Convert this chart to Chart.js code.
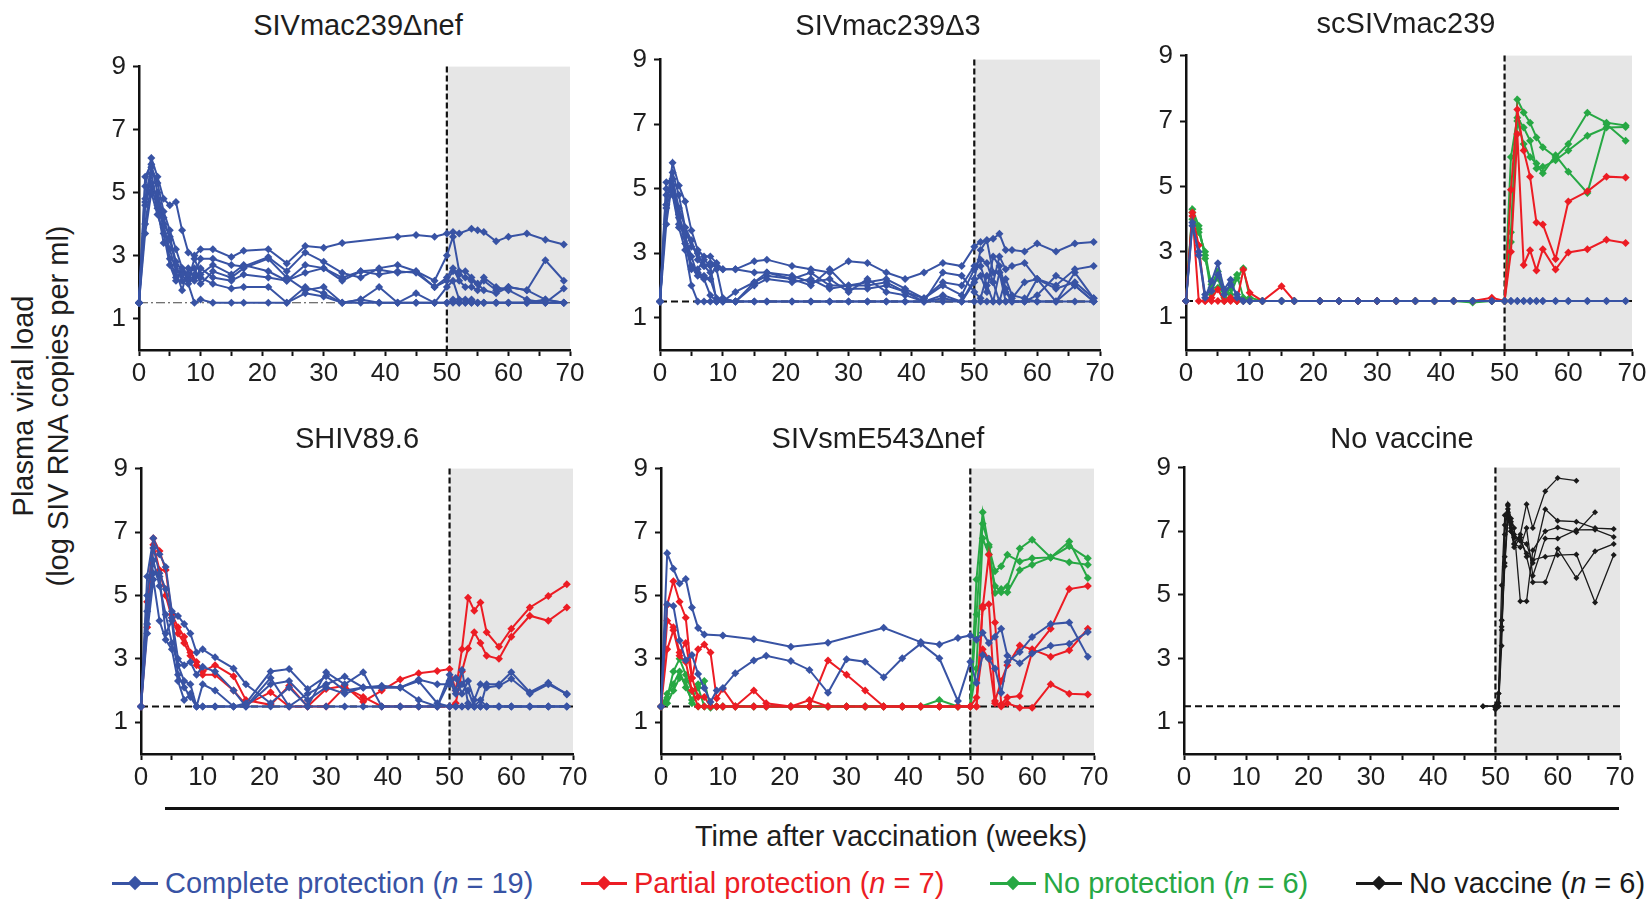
<!DOCTYPE html>
<html>
<head>
<meta charset="utf-8">
<script src="https://cdn.jsdelivr.net/npm/chart.js@4.4.1/dist/chart.umd.min.js"></script>
<style>
  html, body { margin: 0; padding: 0; overflow: hidden; background: #fff; }
  #page { position: relative; width: 1648px; height: 899px; overflow: hidden; font-family: "Liberation Sans", Arial, sans-serif; color: #1e1e1e; }
  canvas { position: absolute; }
  .title { position: absolute; font-size: 29px; line-height: 1; transform: translate(-50%, -50%); white-space: nowrap; }
  .ylab { position: absolute; font-size: 29px; line-height: 1; white-space: nowrap; transform: translate(-50%, -50%) rotate(-90deg); }
  .xlab { position: absolute; font-size: 29px; line-height: 1; white-space: nowrap; transform: translate(-50%, -50%); }
  .rule { position: absolute; left: 165px; top: 807px; width: 1454px; height: 3px; background: #111; }
  .leg { position: absolute; top: 866px; font-size: 29px; line-height: 34px; white-space: nowrap; }
  .mk { display: inline-block; position: relative; width: 46px; height: 2.5px; background: currentColor; vertical-align: middle; margin-right: 7px; top: -2px; }
  .mk::after { content: ""; position: absolute; left: 17px; top: -5px; width: 12px; height: 12px; background: currentColor; transform: rotate(45deg) scale(0.85); }
</style>
</head>
<body>
<div id="page">
  <canvas id="p1"></canvas>
  <canvas id="p2"></canvas>
  <canvas id="p3"></canvas>
  <canvas id="p4"></canvas>
  <canvas id="p5"></canvas>
  <canvas id="p6"></canvas>

  <div class="title" style="left:358px; top:25px">SIVmac239Δnef</div>
  <div class="title" style="left:888px; top:25px">SIVmac239Δ3</div>
  <div class="title" style="left:1406px; top:23px">scSIVmac239</div>
  <div class="title" style="left:357px; top:438px">SHIV89.6</div>
  <div class="title" style="left:878px; top:438px">SIVsmE543Δnef</div>
  <div class="title" style="left:1402px; top:438px">No vaccine</div>

  <div class="ylab" style="left:23px; top:406px">Plasma viral load</div>
  <div class="ylab" style="left:58px; top:406px">(log SIV RNA copies per ml)</div>

  <div class="rule"></div>
  <div class="xlab" style="left:891px; top:836px">Time after vaccination (weeks)</div>

  <div class="leg" style="left:112px; color:#3853a4"><span class="mk"></span>Complete protection (<i>n</i> = 19)</div>
  <div class="leg" style="left:581px; color:#ec1c24"><span class="mk"></span>Partial protection (<i>n</i> = 7)</div>
  <div class="leg" style="left:990px; color:#27a844"><span class="mk"></span>No protection (<i>n</i> = 6)</div>
  <div class="leg" style="left:1356px; color:#1a1a1a"><span class="mk"></span>No vaccine (<i>n</i> = 6)</div>
</div>

<script>
// sampling weeks shared by the vaccinated groups
const weeks = [0,1,2,3,4,5,6,7,8,9,10,  12,15,17,21,24,27,30,33,36,39,42,45,48,  50,51,52,53,54,55,56,58,60,63,66,69];
// denser sampling around challenge for the unvaccinated controls
const noVacWeeks = [48,50,50.5,51,51.5,52,52.5,53,54,55,56,58,60,63,66,69];

const xTicks = [0,5,10,15,20,25,30,35,40,45,50,55,60,65,70];
const xLabels = [0,10,20,30,40,50,60,70];
const yTicks = [1,3,5,7,9];
const challengeWeek = 50;
const detectionLimit = 1.5;

// SIVmac239delta-nef (complete protection)
const mac239nef1 = [1.5,5.2,6.1,5.5,4.8,4.6,4.7,3.8,3.1,3.0,3.2,  3.2,2.95,3.15,3.2,2.75,3.3,3.25,3.4,null,null,3.6,3.65,3.6,  3.7,3.75,3.7,null,3.85,3.8,3.75,3.45,3.6,3.7,3.5,3.35];
const mac239nef2 = [1.5,4.8,5.8,5.3,4.4,3.8,3.2,2.6,2.4,2.4,2.9,  2.9,2.7,2.65,2.95,2.5,3.1,2.8,2.45,2.3,2.6,2.7,2.5,2.2,  3.0,3.6,2.5,2.5,2.3,2.1,2.2,1.9,2.0,1.9,1.6,1.5];
const mac239nef3 = [1.5,5.5,5.9,5.0,4.2,3.5,2.7,2.2,2.3,2.2,2.6,  2.3,2.2,2.4,2.3,2.2,2.45,2.6,2.3,2.5,2.55,2.45,2.5,2.0,  2.2,2.5,2.4,2.3,2.2,2.1,1.9,1.8,2.0,1.9,2.85,2.2];
const mac239nef4 = [1.5,4.6,5.6,4.6,3.9,3.2,2.5,1.9,2.6,2.3,2.3,  2.1,1.95,2.0,2.0,1.5,2.0,1.8,1.5,1.6,2.0,1.5,1.5,1.5,  1.5,1.6,1.5,1.5,1.6,1.5,1.5,1.5,1.5,1.5,1.6,1.5];
const mac239nef5 = [1.5,4.0,5.3,4.8,4.0,2.9,2.3,2.4,2.1,1.5,1.6,  1.5,1.5,1.5,1.5,1.5,1.8,1.7,1.5,1.5,1.5,1.5,1.5,1.5,  1.5,1.5,1.5,1.5,1.5,1.5,1.5,1.5,1.5,1.5,1.5,1.5];
const mac239nef6 = [1.5,3.7,5.0,4.3,3.7,2.7,2.2,2.6,2.2,2.9,2.4,  2.7,2.4,2.7,2.5,2.2,2.7,2.6,2.2,2.5,2.4,2.5,2.45,2.0,  2.3,2.6,2.2,2.0,2.0,1.9,2.3,2.0,1.9,1.6,1.5,1.5];
const mac239nef7 = [1.5,4.7,5.2,4.5,3.4,3.6,2.8,2.5,2.4,2.6,2.1,  2.5,2.3,2.6,2.9,2.3,1.9,2.0,1.5,1.6,1.5,1.5,1.8,1.5,  2.0,2.2,1.6,1.6,1.5,1.5,1.5,1.5,1.5,1.5,1.5,1.95];

// SIVmac239delta3 (complete protection)
const mac239d3_1 = [1.5,4.4,5.8,5.1,4.6,3.7,3.1,2.9,2.9,2.7,2.5,  2.5,2.75,2.8,2.6,2.5,2.4,2.75,2.7,2.4,2.2,2.4,2.7,2.6,  3.2,3.35,3.4,3.45,3.6,3.1,3.1,3.05,3.3,3.05,3.3,3.35];
const mac239d3_2 = [1.5,5.2,5.3,4.4,3.8,3.4,2.8,2.6,2.7,2.6,2.5,  2.5,2.4,2.4,2.2,2.4,2.0,2.0,2.1,2.2,1.9,1.6,2.1,2.0,  2.6,2.8,2.7,2.1,2.9,2.5,2.6,2.7,2.2,2.0,2.5,2.6];
const mac239d3_3 = [1.5,4.5,5.5,4.8,3.8,3.2,3.0,2.6,2.4,2.5,1.6,  1.5,2.0,2.2,2.1,2.2,1.9,2.0,2.0,2.1,1.8,1.6,2.0,1.7,  2.5,2.6,2.0,1.5,2.4,1.5,1.6,2.1,2.2,1.9,2.1,1.6];
const mac239d3_4 = [1.5,4.5,4.9,3.9,3.6,2.6,2.5,2.8,2.6,1.5,1.5,  1.8,2.1,2.3,2.2,2.0,2.5,1.9,1.9,2.0,1.8,1.5,1.6,1.5,  2.1,2.3,1.8,2.9,2.6,1.9,1.5,1.5,1.7,2.3,2.0,1.5];
const mac239d3_5 = [1.5,5.0,4.8,3.8,3.1,2.0,1.5,1.5,1.5,1.5,1.5,  1.5,1.5,1.5,1.5,1.5,1.5,1.5,1.5,1.5,1.5,1.5,1.5,1.5,  1.5,1.5,1.5,1.5,1.5,1.5,1.5,1.5,1.5,1.5,1.5,1.5];
const mac239d3_6 = [1.5,3.9,5.3,4.2,3.5,2.9,2.3,2.2,1.7,1.5,1.6,  1.5,2.1,2.4,2.3,2.1,2.2,1.8,2.2,1.8,1.7,1.5,2.4,2.3,  1.8,1.6,2.3,2.1,1.5,2.2,1.7,1.6,1.5,1.5,2.4,1.6];
const mac239d3_7 = [1.5,4.8,5.1,4.1,3.3,2.5,2.4,2.3,2.2,1.6,1.5,  1.5,1.5,1.5,1.5,1.5,1.5,1.5,1.5,1.5,1.5,1.5,1.7,1.5,  2.2,3.1,3.4,2.4,2.4,1.8,1.5,1.5,2.2,1.5,2.0,1.5];

// scSIVmac239
const scBlue1  = [1.5,3.9,2.9,1.6,2.1,2.65,1.85,2.15,1.6,1.5,1.5,  1.5,1.5,1.5,1.5,1.5,1.5,1.5,1.5,1.5,1.5,1.5,1.5,1.5,  1.5,1.5,1.5,1.5,1.5,1.5,1.5,1.5,1.5,1.5,1.5,1.5];
const scBlue2  = [1.5,3.8,3.0,1.7,1.8,2.3,1.7,2.0,1.7,1.5,1.5,  1.5,1.5,1.5,1.5,1.5,1.5,1.5,1.5,1.5,1.5,1.5,1.5,1.5,  1.5,1.5,1.5,1.5,1.5,1.5,1.5,1.5,1.5,1.5,1.5,1.5];
const scRed1   = [1.5,4.2,1.5,1.5,1.6,1.85,1.5,1.6,1.5,2.45,1.75,  1.5,1.95,1.5,1.5,1.5,1.5,1.5,1.5,1.5,1.5,1.5,1.5,1.6,  1.5,4.9,7.35,6.1,5.3,3.9,3.84,2.78,4.54,4.85,5.3,5.27];
const scRed2   = [1.5,4.1,3.2,1.5,1.5,1.5,1.5,1.5,1.5,1.5,1.5,  1.5,1.5,1.5,1.5,1.5,1.5,1.5,1.5,1.5,1.5,1.5,1.5,1.5,  1.5,3.0,6.6,2.6,3.05,2.43,3.08,2.46,2.98,3.08,3.37,3.27];
const scGreen1 = [1.5,4.3,3.8,2.8,2.0,2.4,1.8,1.7,2.2,2.5,1.6,  1.5,1.5,1.5,1.5,1.5,1.5,1.5,1.5,1.5,1.5,1.5,1.45,1.5,  1.5,3.6,7.66,7.26,6.95,6.5,6.2,5.9,6.3,7.25,6.95,6.86];
const scGreen2 = [1.5,4.2,3.6,3.0,1.9,2.2,1.6,1.9,2.3,1.6,1.5,  1.5,1.5,1.5,1.5,1.5,1.5,1.5,1.5,1.5,1.5,1.5,1.5,1.5,  1.5,5.9,7.1,6.8,6.4,5.55,5.6,5.8,6.1,6.55,6.8,6.82];
const scGreen3 = [1.5,4.0,3.7,2.9,1.7,1.9,1.5,1.6,1.5,1.5,1.5,  1.5,1.5,1.5,1.5,1.5,1.5,1.5,1.5,1.5,1.5,1.5,1.5,1.5,  1.5,3.3,7.0,6.3,5.9,5.7,5.4,5.95,5.45,4.8,6.9,6.4];

// SHIV89.6
const shivBlue1 = [1.5,5.6,6.8,6.3,5.9,4.5,4.35,4.1,3.8,3.2,3.3,  3.05,2.7,2.2,1.6,2.1,1.5,2.58,2.2,2.58,1.5,1.5,1.5,1.5,  2.5,2.0,2.65,1.6,1.5,1.5,2.2,2.2,2.58,1.95,2.25,1.88];
const shivBlue2 = [1.5,5.0,6.5,5.7,5.2,4.3,3.0,2.8,2.9,2.5,2.75,  2.6,2.0,1.5,2.4,1.5,1.9,2.2,2.44,2.1,2.1,2.1,2.35,2.2,  2.2,2.4,1.9,2.3,1.7,2.2,2.1,2.15,2.37,1.9,2.2,1.9];
const shivBlue3 = [1.5,4.1,6.1,5.3,4.4,3.5,2.8,2.3,2.2,1.5,2.2,  2.0,1.5,1.6,2.6,2.68,2.05,2.45,2.0,2.1,2.1,2.1,2.3,1.6,  1.5,1.5,1.5,1.5,1.5,1.5,1.5,1.5,1.5,1.5,1.5,1.5];
const shivBlue4 = [1.5,3.8,5.5,4.2,3.6,3.3,2.3,1.7,1.9,1.5,1.5,  1.5,1.5,1.5,1.5,1.5,1.5,1.5,1.5,1.5,1.5,1.5,1.5,1.5,  1.5,1.5,1.5,1.5,1.5,1.5,1.5,1.5,1.5,1.5,1.5,1.5];
const shivBlue5 = [1.5,4.5,5.7,5.6,3.8,4.2,2.5,2.1,1.8,1.5,1.5,  1.5,1.5,1.5,2.2,2.3,1.7,2.1,1.9,2.1,2.15,2.1,1.7,1.5,  2.3,1.9,2.2,2.0,1.5,1.7,1.5,1.5,1.5,1.5,1.5,1.5];
const shivRed1  = [1.5,4.8,6.8,6.4,5.8,4.4,4.0,3.7,3.2,2.9,2.5,  2.5,2.0,1.55,1.95,1.5,1.5,2.05,2.15,1.65,2.0,2.35,2.55,2.62,  2.68,2.0,3.3,4.93,4.52,4.78,3.84,3.38,3.95,4.62,4.98,5.35];
const shivRed2  = [1.5,4.0,6.6,5.8,5.0,4.3,3.8,3.5,3.1,2.8,2.6,  2.8,2.45,1.7,1.55,2.15,1.5,1.5,2.1,1.8,1.5,1.5,1.5,1.5,  1.5,1.6,2.6,3.33,3.84,3.5,3.1,3.0,3.7,4.36,4.2,4.62];

// SIVsmE543delta-nef
const smeBlue1  = [1.5,6.33,5.84,5.38,5.52,4.62,3.97,3.77,null,null,3.74,  null,3.62,null,3.38,null,3.51,null,null,3.98,null,3.53,3.45,3.66,  3.74,3.6,3.82,3.5,3.7,3.95,3.1,2.86,3.17,3.41,3.48,3.85];
const smeBlue2  = [1.5,4.72,4.67,3.58,2.96,3.12,2.52,2.08,1.64,2.0,2.08,  2.55,2.95,3.1,2.93,2.65,1.93,2.99,2.91,2.42,3.02,3.48,3.02,1.67,  2.91,2.24,3.12,3.0,2.7,1.93,2.9,3.22,3.69,4.1,4.15,3.07];
const smeRed1   = [1.5,4.7,5.45,4.8,4.3,2.4,1.8,1.8,1.5,1.5,1.5,  1.5,1.5,1.5,1.5,1.5,1.5,1.5,1.5,1.5,1.5,1.5,1.5,1.5,  1.5,1.5,4.6,6.28,4.15,1.57,1.78,1.83,3.22,3.95,5.2,5.3];
const smeRed2   = [1.5,4.2,4.0,3.2,3.5,2.4,3.3,3.45,3.2,1.75,2.05,  1.5,2.0,1.6,1.5,1.5,2.95,2.5,2.0,1.5,1.5,1.5,1.5,1.5,  1.5,1.5,4.67,4.72,1.67,2.3,2.8,3.42,3.3,3.07,3.27,3.95];
const smeRed3   = [1.5,3.3,3.9,3.1,2.9,2.0,1.5,1.5,1.5,1.5,1.5,  1.5,1.5,1.5,1.5,1.7,1.5,1.5,1.5,1.5,1.5,1.5,1.5,1.5,  1.5,1.78,3.3,3.0,1.6,1.5,1.6,1.46,1.46,2.2,1.9,1.88];
const smeGreen1 = [1.5,1.77,2.6,3.0,2.5,1.98,2.2,2.3,1.46,1.5,1.5,  1.5,1.5,1.5,1.5,1.5,1.5,1.5,1.5,1.5,1.5,1.5,1.7,1.5,  1.5,5.5,7.62,6.53,5.76,5.92,6.28,6.07,6.17,6.2,6.7,5.55];
const smeGreen2 = [1.5,1.6,2.0,2.4,2.3,1.6,1.5,1.5,1.5,1.5,1.5,  1.5,1.5,1.5,1.5,1.5,1.5,1.5,1.5,1.5,1.5,1.5,1.5,1.5,  1.5,4.4,7.26,6.6,5.08,5.2,5.28,6.48,6.76,6.2,6.55,6.17];
const smeGreen3 = [1.5,1.9,2.2,2.6,2.1,1.7,2.1,1.5,1.5,1.5,1.5,  1.5,1.5,1.5,1.5,1.5,1.5,1.5,1.5,1.5,1.5,1.5,1.5,1.5,  1.5,2.7,6.8,6.3,5.3,5.1,5.1,5.8,5.97,6.2,6.05,5.97];

// No vaccine controls (challenge only)
const noVac1 = [1.5,1.5,1.6,4.2,7.2,7.8,7.3,6.6,6.9,7.85,7.1,8.26,8.67,8.59,null,null];
const noVac2 = [null,1.45,1.9,5.3,7.5,7.7,7.1,6.9,6.7,6.6,6.0,7.69,7.33,7.3,7.1,7.07];
const noVac3 = [null,1.5,1.5,3.4,6.9,7.85,7.4,7.1,4.8,4.8,6.4,7.0,7.12,6.97,7.6,null];
const noVac4 = [null,1.5,1.9,4.0,6.0,7.6,7.2,6.6,6.5,7.1,5.6,6.77,6.77,7.04,7.05,6.82];
const noVac5 = [null,1.4,1.5,4.2,6.2,7.5,7.0,6.8,6.7,6.3,6.1,6.2,6.25,6.27,4.76,6.25];
const noVac6 = [1.5,1.5,1.5,3.9,5.9,7.4,7.0,6.5,6.8,6.2,5.4,5.4,6.45,5.53,6.37,6.6];

const BLUE = '#3853a4', RED = '#ec1c24', GREEN = '#27a844', BLACK = '#1a1a1a';
const FONT = '"Liberation Sans", Arial, sans-serif';

function toPoints(xs, vals) {
    return xs.map((w, i) => (vals[i] == null ? null : { x: w, y: vals[i] })).filter(p => p);
}

function series(xs, vals, color, thin) {
    return {
        data: toPoints(xs, vals),
        borderColor: color,
        backgroundColor: color,
        borderWidth: thin ? 1.3 : 2,
        pointStyle: 'rectRot',
        pointRadius: thin ? 3 : 4,
        pointBorderWidth: 0,
        pointBackgroundColor: color,
        tension: 0,
        clip: false
    };
}

// gray challenge phase + dashed challenge / detection lines
const challengePlugin = {
    id: 'challenge',
    beforeDraw(chart) {
        const { ctx, scales: { x, y } } = chart;
        const x0 = x.getPixelForValue(challengeWeek), x1 = x.getPixelForValue(70);
        const y0 = y.getPixelForValue(9), y1 = y.getPixelForValue(0);
        ctx.save();
        ctx.fillStyle = '#e6e6e6';
        ctx.fillRect(x0, y0, x1 - x0, y1 - y0);
        ctx.restore();
    },
    beforeDatasetsDraw(chart, args, opts) {
        const { ctx, scales: { x, y } } = chart;
        ctx.save();
        // detection limit
        const yl = y.getPixelForValue(detectionLimit);
        if (opts.dashDot) {
            ctx.setLineDash([9, 3, 2, 3]);
            ctx.lineWidth = 1.2;
            ctx.strokeStyle = '#444';
        } else {
            ctx.setLineDash([7, 4]);
            ctx.lineWidth = 2;
            ctx.strokeStyle = '#111';
        }
        ctx.beginPath();
        ctx.moveTo(x.getPixelForValue(0), yl);
        ctx.lineTo(x.getPixelForValue(70), yl);
        ctx.stroke();
        // challenge week
        const xc = x.getPixelForValue(challengeWeek);
        ctx.setLineDash([6, 3]);
        ctx.lineWidth = 2.2;
        ctx.strokeStyle = '#111';
        ctx.beginPath();
        ctx.moveTo(xc, y.getPixelForValue(9));
        ctx.lineTo(xc, y.getPixelForValue(0));
        ctx.stroke();
        ctx.restore();
    }
};

function makePanel(id, area, datasets, dashDot) {
    const padTop = 18, padRight = 24, yW = 60, xH = 46;
    const cv = document.getElementById(id);
    cv.width = area.r - area.l + yW + padRight;
    cv.height = area.b - area.t + padTop + xH;
    cv.style.left = (area.l - yW) + 'px';
    cv.style.top = (area.t - padTop) + 'px';
    const tickFont = { family: FONT, size: 26 };
    new Chart(cv, {
        type: 'line',
        data: { datasets: datasets },
        plugins: [challengePlugin],
        options: {
            responsive: false,
            animation: false,
            devicePixelRatio: 1,
            layout: { padding: { top: padTop, right: padRight, left: 0, bottom: 0 } },
            plugins: {
                legend: { display: false },
                tooltip: { enabled: false },
                challenge: { dashDot: dashDot }
            },
            scales: {
                x: {
                    type: 'linear', min: 0, max: 70,
                    afterBuildTicks: ax => { ax.ticks = xTicks.map(v => ({ value: v })); },
                    afterFit: ax => { ax.height = xH; },
                    ticks: {
                        autoSkip: false, maxRotation: 0, padding: 2, color: '#1e1e1e', font: tickFont,
                        callback: v => (xLabels.includes(v) ? String(v) : '')
                    },
                    grid: { drawOnChartArea: false, drawTicks: true, tickLength: 6, tickWidth: 2, color: '#111', tickColor: '#111' },
                    border: { display: true, color: '#111', width: 2.5 }
                },
                y: {
                    type: 'linear', min: 0, max: 9,
                    afterBuildTicks: ax => { ax.ticks = yTicks.map(v => ({ value: v })); },
                    afterFit: ax => { ax.width = yW; },
                    ticks: { padding: 7, color: '#1e1e1e', font: tickFont },
                    grid: { drawOnChartArea: false, drawTicks: true, tickLength: 6, tickWidth: 2, color: '#111', tickColor: '#111' },
                    border: { display: true, color: '#111', width: 2.5 }
                }
            }
        }
    });
}

makePanel('p1', { l: 139, r: 570, t: 62, b: 350 }, [
    mac239nef1, mac239nef2, mac239nef3, mac239nef4, mac239nef5, mac239nef6, mac239nef7
].map(v => series(weeks, v, BLUE)), true);

makePanel('p2', { l: 660, r: 1100, t: 55, b: 350 }, [
    mac239d3_1, mac239d3_2, mac239d3_3, mac239d3_4, mac239d3_5, mac239d3_6, mac239d3_7
].map(v => series(weeks, v, BLUE)), false);

makePanel('p3', { l: 1186, r: 1632, t: 51, b: 350 }, [
    series(weeks, scBlue1, BLUE), series(weeks, scBlue2, BLUE),
    series(weeks, scRed1, RED), series(weeks, scRed2, RED),
    series(weeks, scGreen1, GREEN), series(weeks, scGreen2, GREEN), series(weeks, scGreen3, GREEN)
], false);

makePanel('p4', { l: 141, r: 573, t: 464, b: 754 }, [
    series(weeks, shivBlue1, BLUE), series(weeks, shivBlue2, BLUE), series(weeks, shivBlue3, BLUE),
    series(weeks, shivBlue4, BLUE), series(weeks, shivBlue5, BLUE),
    series(weeks, shivRed1, RED), series(weeks, shivRed2, RED)
], false);

makePanel('p5', { l: 661, r: 1094, t: 464, b: 754 }, [
    series(weeks, smeBlue1, BLUE), series(weeks, smeBlue2, BLUE),
    series(weeks, smeRed1, RED), series(weeks, smeRed2, RED), series(weeks, smeRed3, RED),
    series(weeks, smeGreen1, GREEN), series(weeks, smeGreen2, GREEN), series(weeks, smeGreen3, GREEN)
], false);

makePanel('p6', { l: 1184, r: 1620, t: 463, b: 754 }, [
    noVac1, noVac2, noVac3, noVac4, noVac5, noVac6
].map(v => series(noVacWeeks, v, BLACK, true)), false);
</script>
</body>
</html>
